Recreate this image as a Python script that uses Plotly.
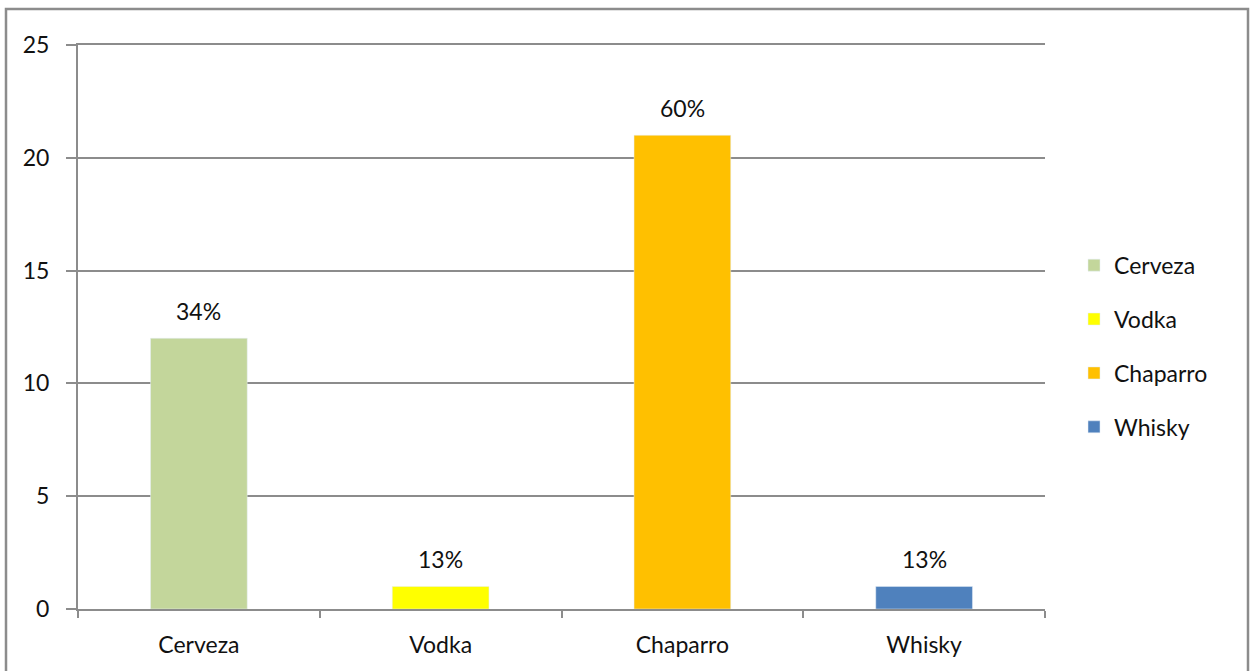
import plotly.graph_objects as go

categories = ["Cerveza", "Vodka", "Chaparro", "Whisky"]
counts = [12, 1, 21, 1]
pct_labels = ["34%", "13%", "60%", "13%"]
colors = ["#c3d69b", "#ffff00", "#ffc000", "#4f81bd"]
y_ticks = [0, 5, 10, 15, 20, 25]

FONT = "Lato"
FSIZE = 23
GRID = "#8c8c8c"

fig = go.Figure()
for cat, val, col in zip(categories, counts, colors):
    fig.add_trace(go.Bar(
        x=[cat], y=[val], name=cat, marker_color=col,
        width=0.4, legendgroup=cat, showlegend=True,
    ))

annotations = [
    dict(x=c, y=v, text=t, showarrow=False, yanchor="bottom", yshift=11,
         font=dict(family=FONT, size=FSIZE, color="#111"))
    for c, v, t in zip(categories, counts, pct_labels)
]

# outer chart frame
shapes = [dict(type="rect", xref="paper", yref="paper",
               x0=(6 - 78) / 967, x1=(1248 - 78) / 967,
               y0=-0.3, y1=(609 - 9) / 564,
               line=dict(color="#8c8c8c", width=2.5), layer="below")]

fig.update_layout(
    width=1250, height=671,
    margin=dict(l=78, r=205, t=45, b=62),
    paper_bgcolor="white", plot_bgcolor="white",
    barmode="overlay",
    font=dict(family=FONT, size=FSIZE, color="#111"),
    annotations=annotations,
    shapes=shapes,
    legend=dict(x=1.03, y=0.466, yanchor="middle", xanchor="left",
                font=dict(family=FONT, size=FSIZE), tracegroupgap=21,
                traceorder="grouped", itemwidth=30),
    xaxis=dict(categoryorder="array", categoryarray=categories,
               showline=True, linecolor=GRID, linewidth=2, mirror=True,
               ticks="outside", tickson="boundaries", ticklen=7,
               tickcolor=GRID, tickwidth=2, showgrid=False,
               ticklabelstandoff=14),
    yaxis=dict(range=[0, 25], tickvals=y_ticks, showline=True,
               linecolor=GRID, linewidth=2, ticks="outside", ticklen=10,
               tickcolor=GRID, tickwidth=2, showgrid=True,
               gridcolor=GRID, gridwidth=2, zeroline=False,
               ticklabelstandoff=12),
)

fig.write_html("out.html")
